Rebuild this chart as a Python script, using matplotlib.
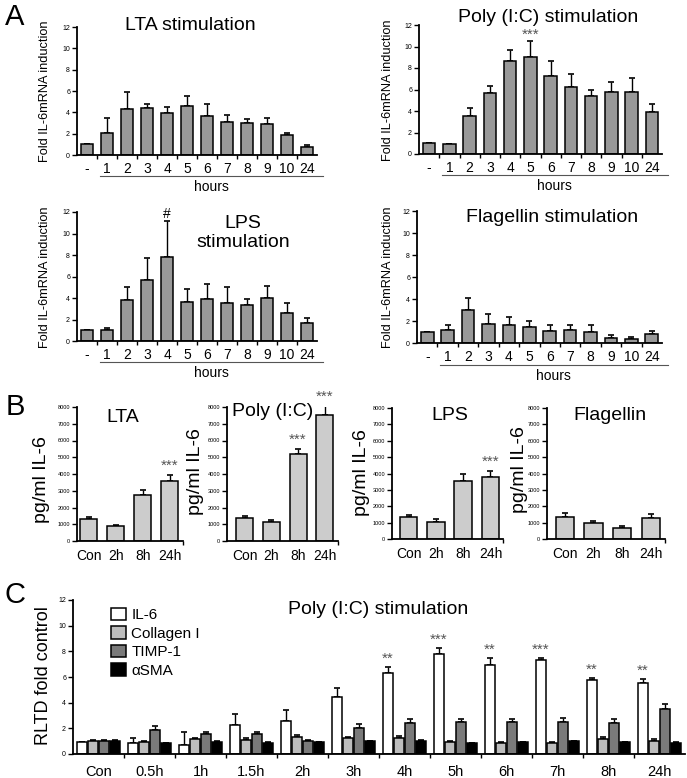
import numpy as np
import matplotlib
matplotlib.use('Agg')
import matplotlib.pyplot as plt
from matplotlib.patches import Patch

plt.rcParams['font.family'] = ['Liberation Sans', 'DejaVu Sans']

#--- panel A : IL-6 mRNA time course
hour_labels = ['-', '1', '2', '3', '4', '5', '6', '7', '8', '9', '10', '24']
lta_mean  = [1.0, 2.03, 4.27, 4.36, 3.96, 4.55, 3.68, 3.05, 2.99, 2.87, 1.87, 0.78]
lta_err   = [0.0, 1.40, 1.65, 0.41, 0.50, 1.00, 1.06, 0.69, 0.41, 0.62, 0.19, 0.12]
poly_mean = [1.0, 0.93, 3.53, 5.70, 8.65, 9.05, 7.26, 6.20, 5.43, 5.80, 5.80, 3.94]
poly_err  = [0.0, 0.03, 0.78, 0.63, 1.02, 1.45, 1.39, 1.24, 0.57, 0.93, 1.24, 0.68]
lps_mean  = [1.0, 1.06, 3.80, 5.67, 7.86, 3.65, 3.90, 3.49, 3.34, 4.02, 2.65, 1.68]
lps_err   = [0.0, 0.14, 1.19, 2.09, 3.27, 1.18, 1.40, 1.56, 0.56, 1.06, 0.87, 0.47]
flag_mean = [1.0, 1.21, 3.04, 1.76, 1.61, 1.43, 1.12, 1.18, 1.03, 0.49, 0.36, 0.82]
flag_err  = [0.0, 0.46, 1.06, 0.91, 0.76, 0.57, 0.49, 0.43, 0.64, 0.21, 0.19, 0.27]

#--- panel B : secreted IL-6
b_labels = ['Con', '2h', '8h', '24h']
lta_b  = [1330, 893, 2740, 3590]
lta_be = [120, 77, 300, 380]
poly_b  = [1390, 1150, 5180, 7500]
poly_be = [120, 100, 340, 560]
lps_b  = [1330, 1060, 3570, 3780]
lps_be = [140, 140, 410, 400]
flag_b  = [1350, 960, 690, 1310]
flag_be = [220, 160, 130, 220]

#--- panel C : Poly(I:C) genes
c_labels = ['Con', '0.5h', '1h', '1.5h', '2h', '3h', '4h', '5h', '6h', '7h', '8h', '24h']
il6      = [0.96, 0.85, 0.70, 2.25, 2.60, 4.47, 6.29, 7.79, 6.94, 7.32, 5.77, 5.56]
il6_err  = [0.00, 0.42, 1.04, 0.90, 0.83, 0.65, 0.46, 0.44, 0.56, 0.18, 0.13, 0.28]
col      = [0.98, 0.90, 1.14, 1.09, 1.30, 1.22, 1.22, 0.96, 0.88, 0.88, 1.14, 1.01]
col_err  = [0.10, 0.08, 0.13, 0.13, 0.15, 0.10, 0.18, 0.05, 0.05, 0.05, 0.20, 0.13]
timp     = [0.98, 1.90, 1.58, 1.53, 1.00, 2.05, 2.44, 2.49, 2.52, 2.52, 2.44, 3.50]
timp_err = [0.10, 0.26, 0.15, 0.16, 0.10, 0.26, 0.26, 0.24, 0.23, 0.28, 0.26, 0.40]
sma      = [1.02, 0.83, 0.95, 0.88, 0.92, 1.00, 1.04, 0.83, 0.90, 0.99, 0.90, 0.88]
sma_err  = [0.08, 0.05, 0.03, 0.05, 0.03, 0.04, 0.04, 0.03, 0.03, 0.03, 0.03, 0.03]
c_series = ['IL-6', 'Collagen I', 'TIMP-1', '\u03b1SMA']

W, H = 687, 778
fig = plt.figure(figsize=(W / 100, H / 100), dpi=100)


def px_axes(x0, y0, x1, y1):
    return fig.add_axes([x0 / W, 1 - y1 / H, (x1 - x0) / W, (y1 - y0) / H])


def ftext(x, y, s, **kw):
    kw.setdefault('ha', 'center')
    kw.setdefault('va', 'center')
    fig.text(x / W, 1 - y / H, s, **kw)


def style(ax, yfs):
    for s in ['top', 'right']:
        ax.spines[s].set_visible(False)
    for s in ['left', 'bottom']:
        ax.spines[s].set_linewidth(1.3)
    ax.tick_params(axis='y', direction='out', length=3.5, width=1, labelsize=yfs, pad=1.5)


def upbars(ax, x, m, e, cap=2.5):
    ax.errorbar(x, m, yerr=[np.zeros(len(e)), e], fmt='none', ecolor='black',
                elinewidth=1, capsize=cap, capthick=1.2, zorder=1)


def hours_panel(rect, mean, err):
    ax = px_axes(*rect)
    style(ax, 5)
    x = np.arange(len(hour_labels))
    ax.bar(x, mean, width=0.62, color='#999999', edgecolor='black', linewidth=1.1, zorder=2)
    upbars(ax, x, mean, err)
    ax.set_xlim(-0.5, 11.5)
    ax.set_ylim(0, 12)
    ax.set_yticks(range(0, 13, 2))
    ax.set_xticks(x[:-1] + 0.5)
    ax.set_xticklabels([])
    ax.set_xticks(x, minor=True)
    ax.set_xticklabels(hour_labels, minor=True, fontsize=10)
    ax.tick_params(axis='x', which='major', length=3, width=1, direction='out')
    ax.tick_params(axis='x', which='minor', length=0, pad=5)
    tr = ax.get_xaxis_transform()
    ax.plot([0.65, 11.8], [-0.165, -0.165], transform=tr, color='#555555', lw=0.8, clip_on=False)
    ax.text(6.2, -0.25, 'hours', transform=tr, ha='center', va='center', fontsize=10)
    return ax


a1 = hours_panel((77, 27, 317, 155), lta_mean, lta_err)
a2 = hours_panel((419, 25, 662, 154), poly_mean, poly_err)
a3 = hours_panel((77, 212, 317, 341), lps_mean, lps_err)
a4 = hours_panel((417, 211, 662, 343), flag_mean, flag_err)

a2.text(5, poly_mean[5] + poly_err[5] + 0.55, '***', ha='center', va='center', fontsize=11, color='#555555')
a3.text(4, lps_mean[4] + lps_err[4] + 0.7, '#', ha='center', va='center', fontsize=10)

for xp, yp in [(45, 91), (388, 90), (45, 277), (388, 277)]:
    ftext(xp, yp, 'Fold IL-6mRNA induction', rotation=90, fontsize=9.2)

ftext(190, 25, 'LTA stimulation', fontsize=14)
ftext(548, 17, 'Poly (I:C) stimulation', fontsize=14)
ftext(243, 233, 'LPS\nstimulation', fontsize=14, linespacing=1.15)
ftext(552, 217, 'Flagellin stimulation', fontsize=14)


def elisa_panel(rect, vals, errs, xl):
    ax = px_axes(*rect)
    style(ax, 4)
    x = np.arange(len(b_labels))
    ax.bar(x, vals, width=0.64, color='#cccccc', edgecolor='black', linewidth=1.1, zorder=2)
    upbars(ax, x, vals, errs)
    ax.set_xlim(*xl)
    ax.set_ylim(0, 8000)
    ax.set_yticks(range(0, 8001, 1000))
    ax.set_xticks([xl[1]])
    ax.set_xticklabels([])
    ax.set_xticks(x, minor=True)
    ax.set_xticklabels(b_labels, minor=True, fontsize=10)
    ax.tick_params(axis='x', which='major', length=3, width=1)
    ax.tick_params(axis='x', which='minor', length=0, pad=6)
    return ax


b1 = elisa_panel((77, 407, 183, 541), lta_b, lta_be, (-0.44, 3.5))
b2 = elisa_panel((227, 407, 338, 541), poly_b, poly_be, (-0.67, 3.5))
b3 = elisa_panel((392, 408, 503, 539), lps_b, lps_be, (-0.61, 3.46))
b4 = elisa_panel((547, 408, 665, 539), flag_b, flag_be, (-0.62, 3.5))

for ax, vals, errs, idx in [(b1, lta_b, lta_be, [3]), (b2, poly_b, poly_be, [2, 3]), (b3, lps_b, lps_be, [3])]:
    for i in idx:
        ax.text(i, vals[i] + errs[i] + 550, '***', ha='center', va='center', fontsize=11,
                color='#555555', clip_on=False)

for xp, yp in [(42, 480), (196, 472), (361, 473), (520, 470)]:
    ftext(xp, yp, 'pg/ml IL-6', rotation=90, fontsize=14)

ftext(123, 417, 'LTA', fontsize=14)
ftext(273, 412, 'Poly (I:C)', fontsize=14)
ftext(450, 415, 'LPS', fontsize=14)
ftext(610, 415, 'Flagellin', fontsize=14)

# panel C
ac = px_axes(73, 600, 685, 754)
style(ac, 5)
xc = np.arange(len(c_labels))
c_vals = [il6, col, timp, sma]
c_errs = [il6_err, col_err, timp_err, sma_err]
c_cols = ['white', '#bdbdbd', '#7a7a7a', 'black']
offs = [-0.33, -0.11, 0.11, 0.33]
for v, e, c, o in zip(c_vals, c_errs, c_cols, offs):
    ac.bar(xc + o, v, width=0.2, color=c, edgecolor='black', linewidth=1.1, zorder=2)
    upbars(ac, xc + o, v, e, cap=2)
ac.set_xlim(-0.5, 11.5)
ac.set_ylim(0, 12)
ac.set_yticks(range(0, 13, 2))
ac.set_xticks(xc[:-1] + 0.5)
ac.set_xticklabels([])
ac.set_xticks(xc, minor=True)
ac.set_xticklabels(c_labels, minor=True, fontsize=10.5)
ac.tick_params(axis='x', which='major', length=3, width=1)
ac.tick_params(axis='x', which='minor', length=0, pad=8)

c_stars = {6: '**', 7: '***', 8: '**', 9: '***', 10: '**', 11: '**'}
for i, s in c_stars.items():
    ac.text(i - 0.33, il6[i] + il6_err[i] + 0.65, s, ha='center', va='center',
            fontsize=11, color='#555555')

handles = [Patch(facecolor=c, edgecolor='black', linewidth=1.1) for c in c_cols]
ac.legend(handles, c_series, loc='upper left', bbox_to_anchor=(103 / W, 1 - 600 / H),
          bbox_transform=fig.transFigure, frameon=False, fontsize=11, handlelength=1.0,
          handleheight=0.9, handletextpad=0.35, labelspacing=0.25, borderpad=0)

ftext(43, 676, 'RLTD fold control', rotation=90, fontsize=13)
ftext(378, 610, 'Poly (I:C) stimulation', fontsize=14)

ftext(15, 17, 'A', fontsize=21)
ftext(15, 407, 'B', fontsize=21)
ftext(15, 595, 'C', fontsize=21)

fig.savefig('out.png', dpi=100)
